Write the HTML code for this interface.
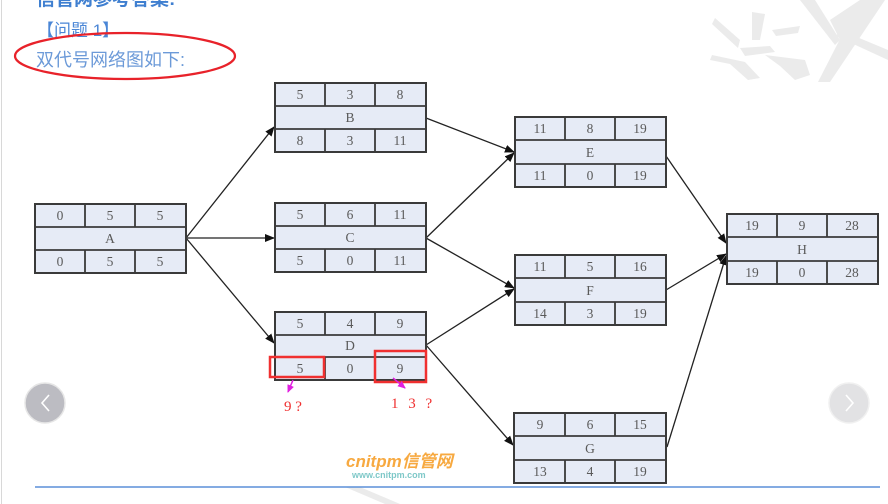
<!DOCTYPE html>
<html><head><meta charset="utf-8"><style>
html,body{margin:0;padding:0;background:#fff;}
body{width:888px;height:504px;overflow:hidden;position:relative;}
svg{position:absolute;left:0;top:0;}
.t{font-family:"Liberation Serif","Noto Serif CJK SC",serif;font-size:13.5px;fill:#5a5a5a;text-anchor:middle;}
</style></head><body>
<svg width="888" height="504" viewBox="0 0 888 504" xmlns="http://www.w3.org/2000/svg">
<defs>
<marker id="ah" markerWidth="10" markerHeight="8" refX="9" refY="4" orient="auto" markerUnits="userSpaceOnUse">
<path d="M0,0 L10,4 L0,8 z" fill="#111"/>
</marker>
<marker id="mh" markerWidth="8" markerHeight="7" refX="7" refY="3.5" orient="auto" markerUnits="userSpaceOnUse">
<path d="M0,0 L8,3.5 L0,7 z" fill="#e020e0"/>
</marker>
</defs>
<!-- watermark -->
<g fill="#ebebeb">
<path d="M715,18 L740,40 L738,48 L712,24 z"/>
<path d="M752,12 L765,14 L760,40 L752,40 z"/>
<path d="M772,30 L800,26 L798,33 L776,36 z"/>
<path d="M712,55 L745,62 L760,78 L748,80 L730,64 L710,60 z"/>
<path d="M740,48 L770,46 L775,52 L745,56 z"/>
<path d="M765,55 L805,60 L810,75 L795,80 L780,66 z"/>
<path d="M800,0 L815,0 L840,40 L835,45 z"/>
<path d="M830,20 L860,0 L870,0 L840,40 z"/>
<path d="M860,0 L885,0 L830,82 L818,82 z"/>
<path d="M840,30 L888,50 L888,60 L836,36 z"/>
<path d="M345,487 L360,487 L400,504 L385,504 z"/>
</g>
<line x1="1.5" y1="0" x2="1.5" y2="504" stroke="#d8d8d8" stroke-width="1"/>
<!-- header text -->
<text x="36" y="5" font-family="'Liberation Sans','Noto Sans CJK SC',sans-serif" font-size="19" font-weight="bold" fill="#3f7fd0">信管网参考答案:</text>
<text x="37" y="36" font-family="'Liberation Sans','Noto Sans CJK SC',sans-serif" font-size="17" fill="#4a86d6">【问题 1】</text>
<text x="36" y="66" font-family="'Liberation Sans','Noto Sans CJK SC',sans-serif" font-size="18" fill="#6c9ad8">双代号网络图如下:</text>
<ellipse cx="125" cy="56" rx="110" ry="23" fill="none" stroke="#e8222a" stroke-width="2.2"/>
<!-- arrows -->
<g stroke="#222" stroke-width="1.3" fill="none" marker-end="url(#ah)">
<line x1="186" y1="238" x2="274" y2="127"/>
<line x1="186" y1="238" x2="274" y2="238"/>
<line x1="186" y1="238" x2="274" y2="343"/>
<line x1="426" y1="118" x2="514" y2="152"/>
<line x1="426" y1="238" x2="514" y2="153"/>
<line x1="426" y1="238" x2="514" y2="288"/>
<line x1="426" y1="345" x2="514" y2="289"/>
<line x1="426" y1="345" x2="513" y2="445"/>
<line x1="666" y1="156" x2="726" y2="243"/>
<line x1="666" y1="290" x2="726" y2="254"/>
<line x1="667" y1="447" x2="726" y2="256"/>
</g>
<!-- boxes -->
<g fill="#e6ebf6" stroke="#3a3a3a" stroke-width="2">
<rect x="35" y="204" width="151" height="69"/>
<rect x="275" y="83" width="151" height="69"/>
<rect x="275" y="203" width="151" height="69"/>
<rect x="275" y="312" width="151" height="68"/>
<rect x="515" y="117" width="151" height="70"/>
<rect x="515" y="255" width="151" height="70"/>
<rect x="514" y="413" width="152" height="70"/>
<rect x="727" y="214" width="151" height="70"/>
</g>
<g stroke="#3a3a3a" stroke-width="1.8">
<line x1="35" y1="227" x2="186" y2="227"/><line x1="35" y1="250" x2="186" y2="250"/>
<line x1="85" y1="204" x2="85" y2="227"/><line x1="135" y1="204" x2="135" y2="227"/>
<line x1="85" y1="250" x2="85" y2="273"/><line x1="135" y1="250" x2="135" y2="273"/>
<line x1="275" y1="106" x2="426" y2="106"/><line x1="275" y1="129" x2="426" y2="129"/>
<line x1="325" y1="83" x2="325" y2="106"/><line x1="375" y1="83" x2="375" y2="106"/>
<line x1="325" y1="129" x2="325" y2="152"/><line x1="375" y1="129" x2="375" y2="152"/>
<line x1="275" y1="226" x2="426" y2="226"/><line x1="275" y1="249" x2="426" y2="249"/>
<line x1="325" y1="203" x2="325" y2="226"/><line x1="375" y1="203" x2="375" y2="226"/>
<line x1="325" y1="249" x2="325" y2="272"/><line x1="375" y1="249" x2="375" y2="272"/>
<line x1="275" y1="335" x2="426" y2="335"/><line x1="275" y1="357" x2="426" y2="357"/>
<line x1="325" y1="312" x2="325" y2="335"/><line x1="375" y1="312" x2="375" y2="335"/>
<line x1="325" y1="357" x2="325" y2="380"/><line x1="375" y1="357" x2="375" y2="380"/>
<line x1="515" y1="140" x2="666" y2="140"/><line x1="515" y1="164" x2="666" y2="164"/>
<line x1="565" y1="117" x2="565" y2="140"/><line x1="615" y1="117" x2="615" y2="140"/>
<line x1="565" y1="164" x2="565" y2="187"/><line x1="615" y1="164" x2="615" y2="187"/>
<line x1="515" y1="278" x2="666" y2="278"/><line x1="515" y1="302" x2="666" y2="302"/>
<line x1="565" y1="255" x2="565" y2="278"/><line x1="615" y1="255" x2="615" y2="278"/>
<line x1="565" y1="302" x2="565" y2="325"/><line x1="615" y1="302" x2="615" y2="325"/>
<line x1="514" y1="436" x2="666" y2="436"/><line x1="514" y1="460" x2="666" y2="460"/>
<line x1="565" y1="413" x2="565" y2="436"/><line x1="615" y1="413" x2="615" y2="436"/>
<line x1="565" y1="460" x2="565" y2="483"/><line x1="615" y1="460" x2="615" y2="483"/>
<line x1="727" y1="237" x2="878" y2="237"/><line x1="727" y1="261" x2="878" y2="261"/>
<line x1="777" y1="214" x2="777" y2="237"/><line x1="827" y1="214" x2="827" y2="237"/>
<line x1="777" y1="261" x2="777" y2="284"/><line x1="827" y1="261" x2="827" y2="284"/>
</g>
<!-- box text -->
<g>
<text class="t" x="60" y="220">0</text><text class="t" x="110" y="220">5</text><text class="t" x="160" y="220">5</text>
<text class="t" x="110" y="243">A</text>
<text class="t" x="60" y="266">0</text><text class="t" x="110" y="266">5</text><text class="t" x="160" y="266">5</text>

<text class="t" x="300" y="99">5</text><text class="t" x="350" y="99">3</text><text class="t" x="400" y="99">8</text>
<text class="t" x="350" y="122">B</text>
<text class="t" x="300" y="145">8</text><text class="t" x="350" y="145">3</text><text class="t" x="400" y="145">11</text>

<text class="t" x="300" y="219">5</text><text class="t" x="350" y="219">6</text><text class="t" x="400" y="219">11</text>
<text class="t" x="350" y="242">C</text>
<text class="t" x="300" y="265">5</text><text class="t" x="350" y="265">0</text><text class="t" x="400" y="265">11</text>

<text class="t" x="300" y="328">5</text><text class="t" x="350" y="328">4</text><text class="t" x="400" y="328">9</text>
<text class="t" x="350" y="350">D</text>
<text class="t" x="300" y="373">5</text><text class="t" x="350" y="373">0</text><text class="t" x="400" y="373">9</text>

<text class="t" x="540" y="133">11</text><text class="t" x="590" y="133">8</text><text class="t" x="640" y="133">19</text>
<text class="t" x="590" y="157">E</text>
<text class="t" x="540" y="180">11</text><text class="t" x="590" y="180">0</text><text class="t" x="640" y="180">19</text>

<text class="t" x="540" y="271">11</text><text class="t" x="590" y="271">5</text><text class="t" x="640" y="271">16</text>
<text class="t" x="590" y="295">F</text>
<text class="t" x="540" y="318">14</text><text class="t" x="590" y="318">3</text><text class="t" x="640" y="318">19</text>

<text class="t" x="540" y="429">9</text><text class="t" x="590" y="429">6</text><text class="t" x="640" y="429">15</text>
<text class="t" x="590" y="453">G</text>
<text class="t" x="540" y="476">13</text><text class="t" x="590" y="476">4</text><text class="t" x="640" y="476">19</text>

<text class="t" x="752" y="230">19</text><text class="t" x="802" y="230">9</text><text class="t" x="852" y="230">28</text>
<text class="t" x="802" y="254">H</text>
<text class="t" x="752" y="277">19</text><text class="t" x="802" y="277">0</text><text class="t" x="852" y="277">28</text>
</g>
<!-- red highlights -->
<rect x="270" y="357" width="54" height="20" fill="none" stroke="#f03030" stroke-width="2.5"/>
<rect x="375" y="351" width="51" height="31" fill="none" stroke="#f03030" stroke-width="2.5"/>
<line x1="293" y1="380" x2="288" y2="392" stroke="#e020e0" stroke-width="1.5" marker-end="url(#mh)"/>
<line x1="393" y1="378" x2="405" y2="388" stroke="#e020e0" stroke-width="1.5" marker-end="url(#mh)"/>
<text x="284" y="411" font-family="'Liberation Serif','Noto Serif CJK SC',serif" font-size="15" fill="#f03030">9 ?</text>
<text x="391" y="408" font-family="'Liberation Serif','Noto Serif CJK SC',serif" font-size="15" fill="#f03030" letter-spacing="3">1 3 ?</text>
<!-- logo -->
<text x="346" y="467" font-family="'Liberation Sans','Noto Sans CJK SC',sans-serif" font-size="17" font-weight="bold" font-style="italic" fill="#f7a940">cnitpm信管网</text>
<text x="352" y="478" font-family="'Liberation Sans',sans-serif" font-size="9" font-weight="bold" fill="#7ec8c8">www.cnitpm.com</text>
<!-- bottom line -->
<line x1="35" y1="487" x2="880" y2="487" stroke="#5b8fd8" stroke-width="1.6"/>
<!-- nav buttons -->
<circle cx="45" cy="403" r="20" fill="#bcbcc2" stroke="#e6e6e6" stroke-width="1.5"/>
<path d="M49,395 L42,403 L49,411" fill="none" stroke="#fff" stroke-width="1.6"/>
<circle cx="849" cy="403" r="20" fill="#e2e2e4" stroke="#f0f0f0" stroke-width="1.5"/>
<path d="M846,395 L853,403 L846,411" fill="none" stroke="#fff" stroke-width="1.6"/>
</svg>
</body></html>
